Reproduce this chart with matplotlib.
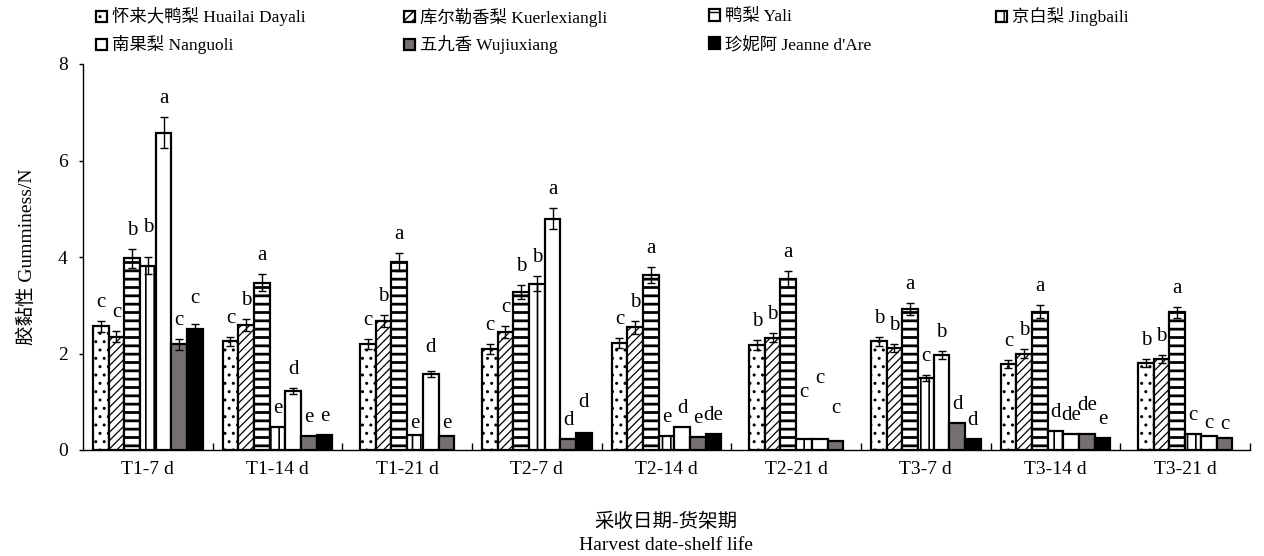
import numpy as np
import matplotlib
matplotlib.use('Agg')
import matplotlib.pyplot as plt
from matplotlib.patches import Patch

plt.rcParams['font.family'] = ['Liberation Serif', 'Noto Sans CJK SC', 'DejaVu Sans']
plt.rcParams['font.size'] = 14

nan = np.nan

groups = ['T1-7 d', 'T1-14 d', 'T1-21 d', 'T2-7 d', 'T2-14 d', 'T2-21 d',
          'T3-7 d', 'T3-14 d', 'T3-21 d']

names = ['怀来大鸭梨 Huailai Dayali', '库尔勒香梨 Kuerlexiangli', '鸭梨 Yali',
         '京白梨 Jingbaili', '南果梨 Nanguoli', '五九香 Wujiuxiang', "珍妮阿 Jeanne d'Are"]

# gumminess (N) and SE, one list per cultivar across the 9 dates
huailai = [2.56, 2.25, 2.20, 2.09, 2.22, 2.18, 2.25, 1.78, 1.80]
kuerle = [2.35, 2.59, 2.67, 2.44, 2.54, 2.33, 2.11, 2.00, 1.88]
yali = [3.97, 3.47, 3.89, 3.28, 3.63, 3.54, 2.92, 2.87, 2.85]
jingbaili = [3.82, 0.48, 0.31, 3.45, 0.29, 0.22, 1.49, 0.40, 0.34]
nanguoli = [6.58, 1.22, 1.57, 4.79, 0.48, 0.23, 1.97, 0.33, 0.29]
wujiuxiang = [2.19, 0.29, 0.30, 0.22, 0.26, 0.19, 0.55, 0.34, 0.24]
jeanne = [2.51, 0.31, nan, 0.36, 0.34, nan, 0.22, 0.24, nan]

huailai_se = [0.12, 0.10, 0.11, 0.10, 0.11, 0.11, 0.10, 0.09, 0.08]
kuerle_se = [0.12, 0.12, 0.13, 0.12, 0.13, 0.09, 0.08, 0.09, 0.08]
yali_se = [0.19, 0.17, 0.19, 0.15, 0.16, 0.17, 0.13, 0.13, 0.12]
jingbaili_se = [0.17, 0, 0, 0.16, 0, 0, 0.06, 0, 0]
nanguoli_se = [0.33, 0.06, 0.06, 0.22, 0, 0, 0.09, 0, 0]
wujiuxiang_se = [0.11, 0, 0, 0, 0, 0, 0, 0, 0]
jeanne_se = [0.11, 0, 0, 0, 0, 0, 0, 0, 0]

# significance letters
huailai_sig = ['c', 'c', 'c', 'c', 'c', 'b', 'b', 'c', 'b']
kuerle_sig = ['c', 'b', 'b', 'c', 'b', 'b', 'b', 'b', 'b']
yali_sig = ['b', 'a', 'a', 'b', 'a', 'a', 'a', 'a', 'a']
jingbaili_sig = ['b', 'e', 'e', 'b', 'e', 'c', 'c', 'd', 'c']
nanguoli_sig = ['a', 'd', 'd', 'a', 'd', 'c', 'b', 'de', 'c']
wujiuxiang_sig = ['c', 'e', 'e', 'd', 'e', 'c', 'd', 'de', 'c']
jeanne_sig = ['c', 'e', '', 'd', 'de', '', 'd', 'e', '']

values = [huailai, kuerle, yali, jingbaili, nanguoli, wujiuxiang, jeanne]
errors = [huailai_se, kuerle_se, yali_se, jingbaili_se, nanguoli_se, wujiuxiang_se, jeanne_se]
letters = [huailai_sig, kuerle_sig, yali_sig, jingbaili_sig, nanguoli_sig, wujiuxiang_sig, jeanne_sig]

# bar looks: fill, hatch, hatch line width
styles = [('white', '..', 1.0), ('white', '////', 0.9), ('white', '--', 2.0),
          ('white', '||', 1.2), ('white', '', 1.0), ('#767171', '', 1.0), ('black', '', 1.0)]

# extra lift (pixels) for a few letters that sit higher/lower
lift = {(0, 3): 11, (0, 6): 7, (2, 4): 5, (2, 3): -7, (2, 5): -6, (3, 6): 12,
        (5, 3): 28, (5, 4): 42, (5, 5): 14, (7, 5): 10, (8, 4): -6, (8, 5): -5}

fig = plt.figure(figsize=(12.64, 5.56), dpi=100)
ax = fig.add_axes([83 / 1264, 106 / 556, (1250 - 83) / 1264, (450 - 64) / 556])

w = 0.121
x = np.arange(len(groups))
vals = np.array(values, dtype=float)
errs = np.array(errors, dtype=float)

for g in range(len(groups)):
    present = [s for s in range(len(values)) if not np.isnan(vals[s, g])]
    n = len(present)
    for k, s in enumerate(present):
        xpos = x[g] + (k - (n - 1) / 2) * w
        fc, hatch, hlw = styles[s]
        with plt.rc_context({'hatch.linewidth': hlw}):
            bar = ax.bar(xpos, vals[s, g], width=w, color=fc, edgecolor='black',
                         linewidth=1.6, hatch=hatch, zorder=2)
        for p in bar:
            if hasattr(p, 'set_hatch_linewidth'):
                p.set_hatch_linewidth(hlw)
        top = vals[s, g]
        if errs[s, g] > 0:
            ax.errorbar(xpos, top, yerr=errs[s, g], fmt='none', ecolor='black',
                        elinewidth=1, capsize=3, capthick=1, zorder=3)
            top += errs[s, g]
        if letters[s][g]:
            ax.annotate(letters[s][g], (xpos, top), xytext=(0, 9 + lift.get((g, s), 0)),
                        textcoords='offset pixels', ha='center', va='bottom', fontsize=15)

ax.set_xlim(-0.5, len(groups) - 0.5)
ax.set_ylim(0, 8)
ax.set_yticks([0, 2, 4, 6, 8])
ax.set_xticks(x)
ax.set_xticklabels(groups)
ax.set_xticks(np.arange(0.5, len(groups)), minor=True)
ax.tick_params(axis='x', which='major', length=0, pad=8, labelsize=14)
ax.tick_params(axis='x', which='minor', direction='in', length=5, width=1)
ax.tick_params(axis='y', direction='out', length=3, width=1, pad=8, labelsize=14)
for side in ['top', 'right']:
    ax.spines[side].set_visible(False)
for side in ['left', 'bottom']:
    ax.spines[side].set_linewidth(1)
ax.set_ylabel('胶黏性 Gumminess/N', fontsize=14, labelpad=16)

fig.text(666 / 1264, 1 - 522 / 556, '采收日期-货架期', ha='center', va='center', fontsize=14)
fig.text(666 / 1264, 1 - 545 / 556, 'Harvest date-shelf life', ha='center', va='center', fontsize=14)

# legend, placed entry by entry in a 4-column grid
col_x = [96, 404, 709, 996]
row_y = [17, 45]
for i, name in enumerate(names):
    fc, hatch, hlw = styles[i]
    with plt.rc_context({'hatch.linewidth': hlw}):
        h = Patch(facecolor=fc, edgecolor='black', hatch=hatch, linewidth=1.6)
    r, c = divmod(i, 4)
    fig.legend(handles=[h], labels=[name], loc='center left',
               bbox_to_anchor=(col_x[c] / 1264, 1 - row_y[r] / 556),
               frameon=False, borderpad=0, borderaxespad=0, handlelength=0.65,
               handleheight=0.65, handletextpad=0.3, fontsize=12.5)

fig.savefig('out.png', dpi=100)
